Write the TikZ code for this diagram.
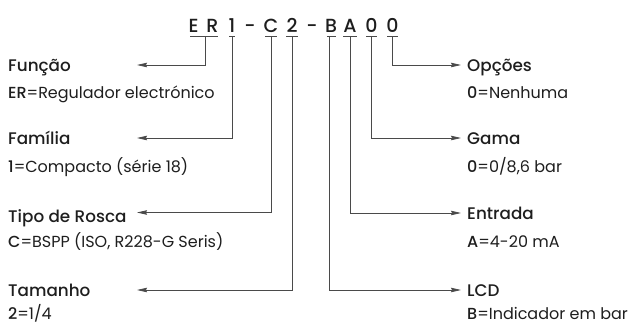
\documentclass[tikz,border=0pt]{standalone}
\usepackage{fontspec}
\setmainfont{Poppins}[BoldFont={Poppins Medium}]
\usetikzlibrary{arrows.meta}
\definecolor{ink}{HTML}{1E1E1E}
\definecolor{wire}{HTML}{4A4A4A}
\tikzset{
  codech/.style={anchor=base,inner sep=0pt,font=\bfseries\fontsize{19}{19}\selectfont,text=ink},
  ttl/.style={anchor=base west,inner sep=0pt,font=\bfseries\fontsize{16.8}{18}\selectfont,text=ink},
  val/.style={anchor=base west,inner sep=0pt,font=\fontsize{16}{18}\selectfont,text=ink},
  ln/.style={draw=wire,line width=0.8pt},
  arr/.style={ln,-{Stealth[length=10pt,width=4.5pt,inset=1pt]}}
}
\begin{document}
\begin{tikzpicture}[x=1pt,y=-1pt]
\useasboundingbox (0,0) rectangle (633,325);
% code characters
\node[codech] (cE) at (193.5,32) {E};
\node[codech] (cR) at (212.5,32) {R};
\node[codech] (c1) at (232,32) {1};
\node[codech] (d1) at (250,32) {-};
\node[codech] (cC) at (271,32) {C};
\node[codech] (c2) at (292,32) {2};
\node[codech] (d2) at (312,32) {-};
\node[codech] (cB) at (331,32) {B};
\node[codech] (cA) at (350,32) {A};
\node[codech] (c0a) at (371.5,32) {0};
\node[codech] (c0b) at (392.5,32) {0};
% underlines
\coordinate (uERl) at (190,36); \coordinate (uERr) at (218,36);
\coordinate (u1l) at (229,36); \coordinate (u1r) at (235,36);
\coordinate (uCl) at (265,36); \coordinate (uCr) at (277,36);
\coordinate (u2l) at (286,36); \coordinate (u2r) at (298,36);
\coordinate (uBl) at (327,36); \coordinate (uBr) at (336,36);
\coordinate (uAl) at (343,36); \coordinate (uAr) at (357,36);
\coordinate (u0al) at (366,36); \coordinate (u0ar) at (377,36);
\coordinate (u0bl) at (387,36); \coordinate (u0br) at (398,36);
\foreach \u in {ER,1,C,2,B,A,0a,0b}{\draw[ln] (u\u l) -- (u\u r);}
% drop points
\coordinate (pER) at (205,36);
\coordinate (p1) at (232,36);
\coordinate (pC) at (271,36);
\coordinate (p2) at (292,36);
\coordinate (pB) at (329,36);
\coordinate (pA) at (350,36);
\coordinate (p0a) at (371.5,36);
\coordinate (p0b) at (392.5,36);
% arrow ends
\coordinate (tF) at (137,65);
\coordinate (tFa) at (137,138);
\coordinate (tT) at (137,212.5);
\coordinate (tTa) at (137,290);
\coordinate (tO) at (461,65);
\coordinate (tG) at (461,138);
\coordinate (tE) at (461,213);
\coordinate (tL) at (461,290);
\draw[arr] (pER) |- (tF);
\draw[arr] (p1) |- (tFa);
\draw[arr] (pC) |- (tT);
\draw[arr] (p2) |- (tTa);
\draw[arr] (p0b) |- (tO);
\draw[arr] (p0a) |- (tG);
\draw[arr] (pA) |- (tE);
\draw[arr] (pB) |- (tL);
% left labels
\node[ttl] (lF) at (8,71) {Função};
\node[val] (vF) at (8,98) {\textbf{ER}=Regulador electrónico};
\node[ttl] (lFa) at (8,144) {Família};
\node[val] (vFa) at (8,172) {\textbf{1}=Compacto (série 18)};
\node[ttl] (lT) at (8,222) {Tipo de Rosca};
\node[val] (vT) at (8,247) {\textbf{C}=BSPP (ISO, R228-G Seris)};
\node[ttl] (lTa) at (8,296) {Tamanho};
\node[val] (vTa) at (8,319) {\textbf{2}=1/4};
% right labels
\node[ttl] (lO) at (467,71) {Opções};
\node[val] (vO) at (467,98) {\textbf{0}=Nenhuma};
\node[ttl] (lG) at (467,144) {Gama};
\node[val] (vG) at (467,172) {\textbf{0}=0/8,6 bar};
\node[ttl] (lE) at (467,219) {Entrada};
\node[val] (vE) at (467,247) {\textbf{A}=4-20 mA};
\node[ttl] (lL) at (467,296) {LCD};
\node[val] (vL) at (467,319) {\textbf{B}=Indicador em bar};
\end{tikzpicture}
\end{document}
